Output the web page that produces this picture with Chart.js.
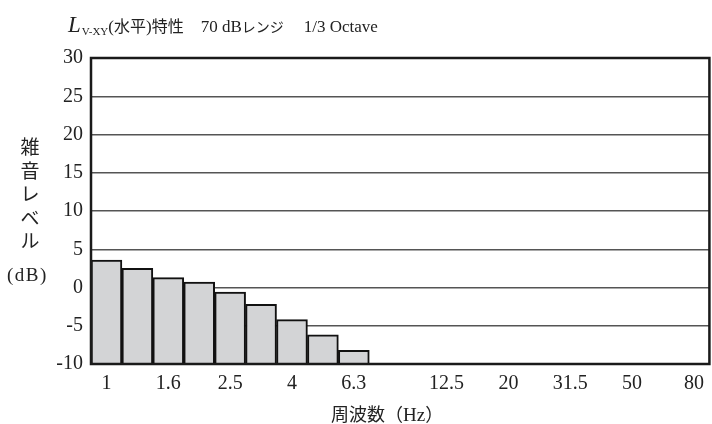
<!DOCTYPE html>
<html>
<head>
<meta charset="utf-8">
<script src="https://cdn.jsdelivr.net/npm/chart.js@4/dist/chart.umd.min.js"></script>
<style>
  html, body { margin: 0; padding: 0; background: #fff; }
  #wrap { position: relative; width: 712px; height: 424px; font-family: "Liberation Serif", "Noto Sans CJK JP", serif; color: #222; }
  canvas { position: absolute; left: 0; top: 0; }
  .title { position: absolute; left: 68px; top: 13px; font-size: 17px; line-height: 24px; white-space: nowrap; }
  .title i { font-size: 23px; }
  .title sub { font-size: 11px; vertical-align: -3px; margin-left: 1px; }
  .title .jp { font-family: "Noto Sans CJK JP", sans-serif; font-size: 16px; }
  .title .kana { font-family: "Noto Sans CJK JP", sans-serif; font-size: 14px; }
  .title .gap1 { margin-left: 17px; }
  .title .gap2 { margin-left: 20px; }
  .ylab { position: absolute; left: 19px; top: 134px; width: 22px; font-family: "Noto Sans CJK JP", sans-serif; font-size: 19px; line-height: 23.5px; text-align: center; }
  .yunit { position: absolute; left: 7px; top: 264px; font-size: 19px; letter-spacing: 1.5px; }
  .xlab { position: absolute; left: 331px; top: 400px; font-size: 19px; white-space: nowrap; }
  .xlab .jp { font-family: "Noto Sans CJK JP", sans-serif; font-size: 18px; }
</style>
</head>
<body>
<div id="wrap">
  <canvas id="c" width="712" height="424"></canvas>
  <div class="title"><i>L</i><sub>V-XY</sub>(<span class="jp">水平</span>)<span class="jp">特性</span><span class="gap1">70 dB</span><span class="kana">レンジ</span><span class="gap2">1/3 Octave</span></div>
  <div class="ylab">雑<br>音<br>レ<br>ベ<br>ル</div>
  <div class="yunit">(dB)</div>
  <div class="xlab"><span class="jp">周波数（</span>Hz<span class="jp">）</span></div>
</div>
<script>
// 1/3 octave band centre frequencies (Hz)
const bands = ["1", "1.25", "1.6", "2", "2.5", "3.15", "4", "5", "6.3", "8",
               "10", "12.5", "16", "20", "25", "31.5", "40", "50", "63", "80"];
// noise level per band (dB)
const levels = [3.6, 2.5, 1.3, 0.7, -0.6, -2.2, -4.2, -6.2, -8.2,
                null, null, null, null, null, null, null, null, null, null, null];
// bands that carry a tick label
const labelledBands = ["1", "1.6", "2.5", "4", "6.3", "12.5", "20", "31.5", "50", "80"];
const yTicks = [-10, -5, 0, 5, 10, 15, 20, 25, 30];

// heavy frame around the plot area
const framePlugin = {
  id: 'frame',
  afterDraw(chart) {
    const { ctx, chartArea: a } = chart;
    ctx.save();
    ctx.strokeStyle = '#1a1a1a';
    ctx.lineWidth = 2.5;
    ctx.strokeRect(a.left, a.top, a.right - a.left, a.bottom - a.top);
    ctx.restore();
  }
};

const tickFont = { family: "'Liberation Serif', serif", size: 20 };

new Chart(document.getElementById('c'), {
  type: 'bar',
  data: {
    labels: bands,
    datasets: [{
      data: levels,
      backgroundColor: '#d3d4d6',
      borderColor: '#111',
      borderWidth: 2,
      barPercentage: 1,
      categoryPercentage: 1,
      base: -10
    }]
  },
  options: {
    responsive: false,
    animation: false,
    layout: { padding: { left: 0, right: 2, top: 58, bottom: 0 } },
    plugins: { legend: { display: false }, tooltip: { enabled: false } },
    scales: {
      x: {
        grid: { display: false, drawTicks: false },
        border: { display: false },
        ticks: {
          autoSkip: false, maxRotation: 0, padding: 8, color: '#222', font: tickFont,
          callback(v, i) { return labelledBands.includes(bands[i]) ? bands[i] : ''; }
        },
        afterFit(s) { s.height = 60; }
      },
      y: {
        min: -10, max: 30, z: 1,
        grid: { color: '#555', lineWidth: 1.5, drawTicks: false },
        border: { display: false },
        afterBuildTicks(s) { s.ticks = yTicks.map(v => ({ value: v })); },
        ticks: { padding: 8, color: '#222', font: tickFont },
        afterFit(s) { s.width = 91; }
      }
    }
  },
  plugins: [framePlugin]
});
</script>
</body>
</html>
